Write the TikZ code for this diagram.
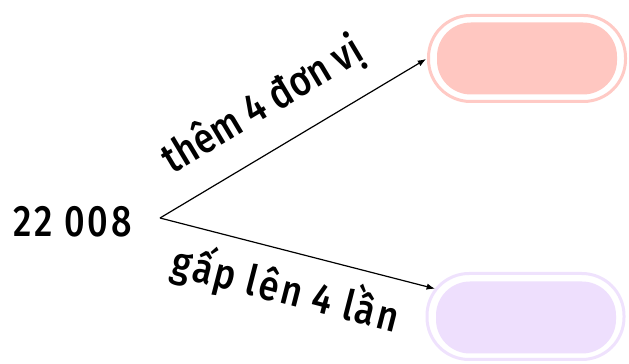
\documentclass[tikz,border=0pt]{standalone}
\usepackage{fontspec}
\setmainfont{Fira Sans}[UprightFont=* Medium, FakeStretch=0.82, LetterSpace=6]
\newfontfamily\labelfont{Fira Sans}[UprightFont=* Medium, FakeStretch=0.86]
\newfontfamily\widelabelfont{Fira Sans}[UprightFont=* Medium, FakeStretch=0.86, LetterSpace=6]
\usetikzlibrary{arrows.meta,positioning}

\definecolor{pinkring}{HTML}{FFCAC5}
\definecolor{pinkfill}{HTML}{FFC7C1}
\definecolor{lilacring}{HTML}{EFE2FD}
\definecolor{lilacfill}{HTML}{EEDFFD}

\begin{document}
\begin{tikzpicture}[
  x=1pt,
  y=1pt,
  >=Latex,
  ring/.style={rounded corners=42pt, line width=3pt, fill=white, minimum width=197pt, minimum height=86pt, inner sep=0pt},
  blob/.style={rounded corners=34pt, minimum width=180pt, minimum height=72pt, inner sep=0pt},
  arrow/.style={->, line width=1.2pt, draw=black, shorten >=1pt},
  elabel/.style={font=\labelfont\fontsize{42}{42}\selectfont, text height=0.8em, text depth=0.25em, inner sep=2pt, sloped},
  widelabel/.style={elabel, font=\widelabelfont\fontsize{42}{42}\selectfont},
]

\useasboundingbox (0,0) rectangle (629,364);

\node[anchor=base west, font=\fontsize{44}{44}\selectfont] (num) at (10,127) {22 008};
\coordinate (fork) at (160,146);

\node[ring, draw=pinkring] (box1) at (527,305.5) {};
\node[blob, fill=pinkfill] (fill1) at (527,305.5) {};
\node[ring, draw=lilacring] (box2) at (525.5,47.5) {};
\node[blob, fill=lilacfill] (fill2) at (526,46.5) {};

\draw[arrow] (fork) -- node[elabel, pos=0.47, above=26pt] {thêm 4 đơn vị} (box1.west);
\draw[arrow] (fork) -- node[widelabel, pos=0.49, below=42pt] {gấp lên 4 lần} ([shift={(10.5,-17)}]box2.north west);

\end{tikzpicture}
\end{document}
